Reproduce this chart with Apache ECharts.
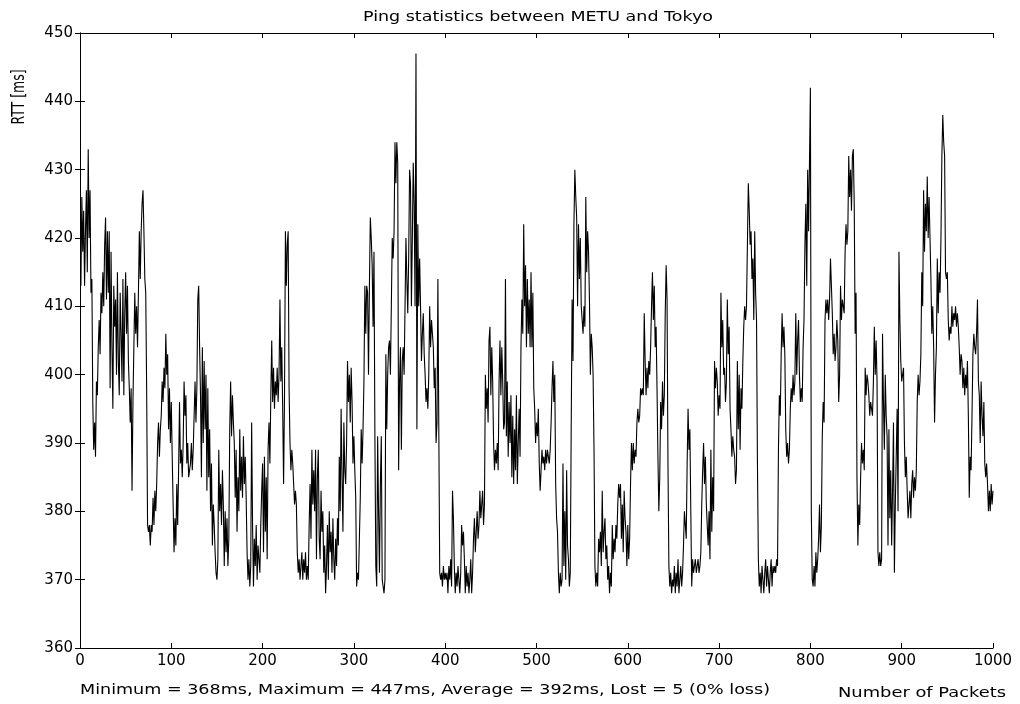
<!DOCTYPE html>
<html>
<head>
<meta charset="utf-8">
<title>Ping statistics between METU and Tokyo</title>
<script src="https://cdn.jsdelivr.net/npm/echarts@6/dist/echarts.min.js"></script>
<style>
  html, body { margin: 0; padding: 0; background: #fff; }
  #chart { width: 1020px; height: 704px; }
</style>
</head>
<body>
<div id="chart"></div>
<script>
// Round-trip times (ms), one value per packet, in blocks of 100 packets
const rtt000 = [
  413,426,418,424,413,421,427,415,433,420, 427,412,414,396,389,393,388,399,397,404,
  408,403,412,409,415,410,419,423,411,421, 412,421,398,418,404,395,413,407,411,400,
  415,402,397,412,406,399,414,397,409,415, 406,413,402,398,393,398,383,396,404,412,
  406,410,404,412,421,414,421,425,427,421, 414,412,398,378,377,378,375,378,377,382,
  378,383,380,384,390,393,388,392,394,399, 396,401,398,406,400,403,392,398,390,396
];
const rtt100 = [
  388,381,374,379,375,384,378,386,396,387, 389,385,390,399,394,397,387,390,385,386,
  387,390,386,389,394,399,393,398,411,413, 404,397,385,404,390,402,392,400,383,398,
  385,392,380,387,375,381,378,374,371,370, 373,389,380,384,378,386,381,372,380,374,
  379,372,376,392,399,391,397,393,390,382, 389,377,385,380,392,383,388,382,391,384,
  388,382,374,370,373,369,372,393,378,369, 376,372,378,370,375,373,371,378,383,387
];
const rtt200 = [
  374,388,377,385,373,389,393,387,397,405, 396,401,395,399,397,401,396,400,411,399,
  404,395,384,397,421,413,419,421,398,390, 386,389,387,384,381,383,381,374,371,373,
  370,372,374,370,373,371,374,370,372,370, 378,384,376,389,381,386,380,389,373,385,
  389,376,373,383,377,380,371,375,368,372, 378,370,380,374,377,371,379,373,370,376,
  372,379,375,388,380,395,385,377,393,386, 384,390,402,396,400,393,401,396,387,391
];
const rtt300 = [
  386,382,369,371,370,376,382,392,387,392, 399,413,406,413,412,400,413,423,420,416,
  407,418,391,372,369,391,380,371,384,391, 370,369,368,370,403,392,400,404,405,400,
  410,420,417,421,434,428,434,431,386,399, 404,389,402,404,400,410,420,414,409,417,
  430,428,410,420,431,425,410,447,392,422, 410,417,410,402,406,409,403,400,396,398,
  395,400,410,404,408,406,404,398,401,390, 393,414,392,371,370,371,369,372,370,371
];
const rtt400 = [
  370,371,368,372,370,373,369,383,379,372, 368,371,369,372,370,368,371,378,375,377,
  373,368,372,369,371,368,370,373,368,371, 376,379,374,377,380,376,378,383,379,381,
  383,378,381,400,395,398,393,405,407,397, 404,399,390,386,389,387,390,386,399,405,
  397,404,399,392,393,414,391,399,388,396, 390,397,385,394,384,392,386,397,384,390,
  395,388,404,411,406,422,410,416,404,414, 406,411,404,415,404,412,398,395,390,393
];
const rtt500 = [
  391,395,387,383,386,389,387,388,386,389, 387,389,388,387,389,393,398,402,396,400,
  384,379,377,371,368,371,369,370,387,372, 380,370,386,375,373,369,371,392,411,402,
  422,430,426,423,410,422,414,420,410,408, 406,410,407,426,415,421,418,411,400,406,
  404,400,389,372,369,371,369,376,374,377, 372,383,374,377,379,373,375,370,372,368,
  371,369,378,373,376,374,378,376,381,384, 382,384,376,381,374,383,379,377,372,378
];
const rtt600 = [
  373,376,384,390,386,390,387,389,388,393, 395,393,394,398,397,398,397,409,402,397,
  401,398,402,400,404,410,415,408,413,404, 407,398,388,380,385,396,392,399,394,397,
  409,416,411,387,372,369,371,368,370,369, 372,368,371,369,373,368,370,372,369,371,
  375,380,378,376,387,395,389,392,380,369, 373,371,372,373,371,372,373,371,372,374,
  381,386,390,384,388,381,378,375,380,373, 389,377,385,380,402,398,401,399,394,397
];
const rtt700 = [
  395,412,404,408,400,401,396,399,411,403, 407,395,392,388,391,389,388,384,386,402,
  392,400,389,398,395,402,407,410,408,410, 419,428,424,419,421,414,417,408,421,412,
  408,387,373,369,371,368,372,370,368,371, 373,369,372,370,368,371,373,369,372,371,
  372,371,373,372,389,397,394,403,409,404, 407,403,392,388,390,387,389,395,398,396,
  400,397,399,409,400,405,408,400,396,398, 396,404,408,419,425,413,430,421,431,442
];
const rtt800 = [
  380,370,369,372,369,374,371,373,376,381, 374,378,391,396,393,408,411,409,411,408,
  411,417,413,409,403,406,402,404,408,405, 396,400,413,408,411,410,409,418,422,419,
  421,432,426,430,424,432,433,425,406,412, 385,375,381,378,385,390,387,389,386,401,
  397,400,399,397,394,396,395,394,399,407, 400,405,399,374,372,374,372,373,406,396,
  389,400,394,391,375,392,379,386,375,383, 393,371,381,388,395,380,418,408,402,399
];
const rtt900 = [
  400,401,390,385,388,383,379,381,383,379, 384,386,382,385,383,386,396,400,397,399,
  403,415,410,427,418,425,421,429,420,426, 420,414,406,410,404,393,400,404,417,409,
  415,412,420,432,438,434,432,415,414,415, 408,405,407,406,410,407,409,408,410,407,
  409,407,404,400,403,402,398,401,397,400, 398,402,394,382,388,386,394,403,406,404,
  403,406,411,399,397,390,399,394,391,396, 387,385,387,384,380,383,380,384,381,383
];

const rttBlocks = [rtt000, rtt100, rtt200, rtt300, rtt400, rtt500, rtt600, rtt700, rtt800, rtt900];

// Axis ranges and tick steps
const xRange = [0, 1000], xStep = 100;
const yRange = [360, 450], yStep = 10;

// Labels
const titleText = 'Ping statistics between METU and Tokyo';
const yTitle = 'RTT [ms]';
const xTitle = 'Number of Packets';
const statsText = 'Minimum = 368ms, Maximum = 447ms, Average = 392ms, Lost = 5 (0% loss)';

// [packet number, RTT] pairs, packets numbered from 1
const points = [];
rttBlocks.forEach(function (block, b) {
  block.forEach(function (v, i) { points.push([b * 100 + i + 1, v]); });
});

const font = 'DejaVu Sans, Liberation Sans, sans-serif';

// Stretch factor along the text run so that it spans the given length
const measureCtx = document.createElement('canvas').getContext('2d');
function stretchTo(text, size, length) {
  measureCtx.font = size + 'px ' + font;
  return length / measureCtx.measureText(text).width;
}

function label(text, size, x, y, length, align, rotation) {
  return {
    type: 'text', x: x, y: y, rotation: rotation || 0,
    scaleX: stretchTo(text, size, length), scaleY: 1,
    style: { text: text, fontFamily: font, fontSize: size, fill: '#000',
             textAlign: align, textVerticalAlign: 'middle' }
  };
}

const chart = echarts.init(document.getElementById('chart'), null, { renderer: 'canvas' });

function boxAxis(extra) {
  return Object.assign({
    type: 'value',
    axisLine: { show: true, lineStyle: { color: '#000', width: 1 } },
    axisTick: { show: true, inside: true, length: 5, lineStyle: { color: '#000', width: 1 } },
    splitLine: { show: false },
    axisLabel: { show: false }
  }, extra);
}

const tickFont = {
  show: true, color: '#000', fontFamily: font, fontSize: 15, margin: 7,
  formatter: function (v) { return String(v); }
};

chart.setOption({
  animation: false,
  backgroundColor: '#fff',
  grid: { left: 80, right: 27, top: 33, bottom: 56, containLabel: false },
  xAxis: [
    boxAxis({ position: 'bottom', min: xRange[0], max: xRange[1], interval: xStep,
              axisLabel: Object.assign({}, tickFont, { margin: 6 }) }),
    boxAxis({ position: 'top', min: xRange[0], max: xRange[1], interval: xStep })
  ],
  yAxis: [
    boxAxis({ position: 'left', min: yRange[0], max: yRange[1], interval: yStep,
              axisLabel: tickFont }),
    boxAxis({ position: 'right', min: yRange[0], max: yRange[1], interval: yStep })
  ],
  graphic: [
    label(titleText, 14, 538, 17, 350, 'center'),
    label(yTitle, 17, 20, 97, 55, 'center', Math.PI / 2),
    label(statsText, 14, 80, 690, 690, 'left'),
    label(xTitle, 14, 922, 693, 168, 'center')
  ],
  series: [{
    type: 'line',
    xAxisIndex: 0, yAxisIndex: 0,
    data: points,
    showSymbol: false,
    symbol: 'none',
    lineStyle: { color: '#000', width: 1.1 },
    silent: true
  }]
});
</script>
</body>
</html>
